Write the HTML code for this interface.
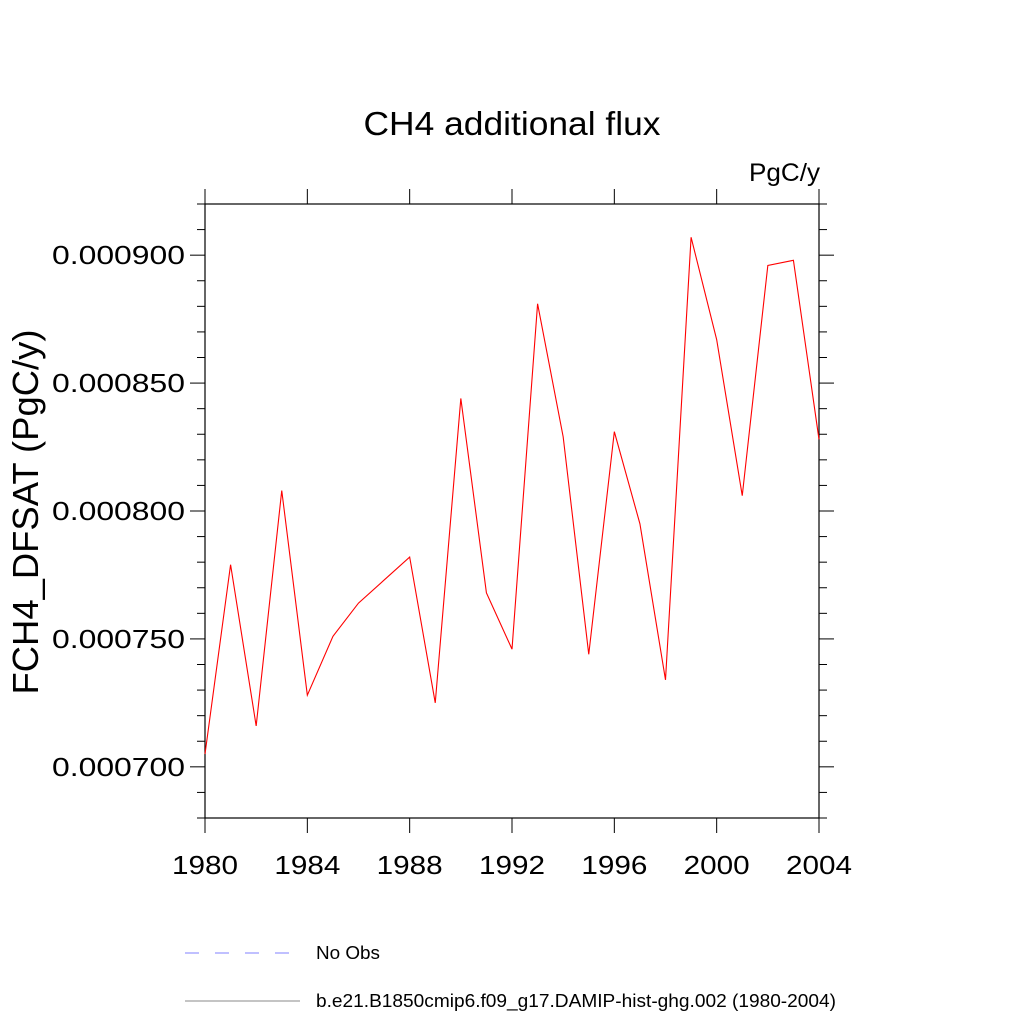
<!DOCTYPE html>
<html><head><meta charset="utf-8"><style>body{margin:0;background:#fff}svg{display:block;font-family:"Liberation Sans",sans-serif}</style></head>
<body>
<svg id="chart" width="1024" height="1024" viewBox="0 0 1024 1024">
<text x="512" y="135" font-size="33" text-anchor="middle" textLength="297" lengthAdjust="spacingAndGlyphs">CH4 additional flux</text>
<text x="820" y="181" font-size="25" text-anchor="end" textLength="71" lengthAdjust="spacingAndGlyphs">PgC/y</text>
<text transform="translate(38,512) rotate(-90)" font-size="36" text-anchor="middle" textLength="365" lengthAdjust="spacingAndGlyphs">FCH4_DFSAT  (PgC/y)</text>
<g id="axes"></g>
<g id="series"></g>
<g>
<line x1="185" y1="953" x2="300" y2="953" stroke="#8080ff" stroke-width="1" stroke-dasharray="14,16"/>
<text x="316" y="959" font-size="18" textLength="64" lengthAdjust="spacingAndGlyphs">No Obs</text>
<line x1="185" y1="1001" x2="300" y2="1001" stroke="#888" stroke-width="1"/>
<text x="316" y="1007" font-size="18" textLength="520" lengthAdjust="spacingAndGlyphs">b.e21.B1850cmip6.f09_g17.DAMIP-hist-ghg.002 (1980-2004)</text>
</g>
</svg>
<script>
const years=[1980,1981,1982,1983,1984,1985,1986,1987,1988,1989,1990,1991,1992,1993,1994,1995,1996,1997,1998,1999,2000,2001,2002,2003,2004];
const values=[0.000705,0.000779,0.000716,0.000808,0.000728,0.000751,0.000764,0.000773,0.000782,0.000725,0.000844,0.000768,0.000746,0.000881,0.000829,0.000744,0.000831,0.000795,0.000734,0.000907,0.000867,0.000806,0.000896,0.000898,0.000828];
const xTicks=[1980,1984,1988,1992,1996,2000,2004];
const yTicks=[0.0007,0.00075,0.0008,0.00085,0.0009];
const yTickLabels=["0.000700","0.000750","0.000800","0.000850","0.000900"];
const L=205,R=819,T=204,B=818,X0=1980,X1=2004,Y0=0.00068,Y1=0.00092;
const sx=v=>L+(v-X0)/(X1-X0)*(R-L);
const sy=v=>B-(v-Y0)/(Y1-Y0)*(B-T);
const NS="http://www.w3.org/2000/svg";
const ax=document.getElementById('axes');
function mk(tag,attrs,parent){const e=document.createElementNS(NS,tag);for(const k in attrs)e.setAttribute(k,attrs[k]);parent.appendChild(e);return e;}
const frame=mk('rect',{x:L,y:T,width:R-L,height:B-T,fill:'none',stroke:'#000','stroke-width':1.2},ax);


xTicks.forEach(t=>{const x=sx(t);
const a=mk('line',{x1:x,y1:B,x2:x,y2:B+15,stroke:'#000'},ax);


const b=mk('line',{x1:x,y1:T,x2:x,y2:T-15,stroke:'#000'},ax);


const tx=mk('text',{x:x,y:874,'font-size':26,'text-anchor':'middle',textLength:66,lengthAdjust:'spacingAndGlyphs'},ax);tx.textContent=t;

});
for(let i=0;i<=24;i++){const v=Y0+i*0.00001;const y=sy(v);const major=Math.abs((v*1e5)%5)<0.01||Math.abs((v*1e5)%5-5)<0.01;const len=major?15:8;
const a=mk('line',{x1:L,y1:y,x2:L-len,y2:y,stroke:'#000'},ax);


const b=mk('line',{x1:R,y1:y,x2:R+len,y2:y,stroke:'#000'},ax);

}
yTicks.forEach((t,i)=>{const tx=mk('text',{x:52,y:sy(t)+9,'font-size':26,textLength:133,lengthAdjust:'spacingAndGlyphs'},ax);tx.textContent=yTickLabels[i];

});
const pl=mk('polyline',{points:years.map((y,i)=>sx(y)+','+sy(values[i])).join(' '),fill:'none',stroke:'#f00','stroke-width':1.1},document.getElementById('series'));


</script>
</body></html>
